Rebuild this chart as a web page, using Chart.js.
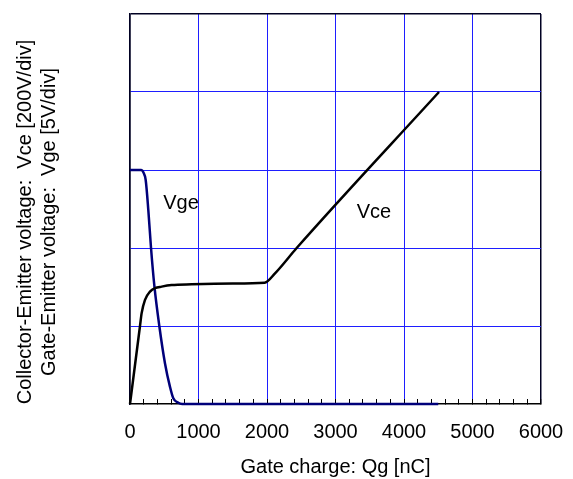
<!DOCTYPE html>
<html>
<head>
<meta charset="utf-8">
<script src="https://cdn.jsdelivr.net/npm/chart.js@4.4.1/dist/chart.umd.min.js"></script>
<style>
  html, body { margin: 0; padding: 0; background: #fff; }
  #chart { display: block; }
</style>
</head>
<body>
<canvas id="chart" width="573" height="479"></canvas>
<script>
// Gate charge curve
// Vce in volts (200V/div), Vge in volts (5V/div), Qg in nC
const qgVce = [0, 146, 170, 219, 292, 365, 462, 608, 900, 1500, 1965, 2117, 2433, 4511];
const vce   = [0, 200, 233, 267, 288, 297, 301, 305, 307, 309, 311, 335, 400, 800];

const qgVge = [0, 165, 195, 229, 268, 307, 355, 428, 511, 584, 632, 705, 760, 4500];
const vge   = [15, 15, 14.85, 14.36, 12.4, 10, 7.6, 5, 2.6, 1.1, 0.37, 0.08, 0, 0];

const xTicks = [0, 1000, 2000, 3000, 4000, 5000, 6000];

const curveLabels = [
    { text: 'Vge', qg: 745, v: 515 },
    { text: 'Vce', qg: 3562, v: 491 }
];

const FONT = '"Liberation Sans", Arial, sans-serif';
const gridBlue = 'rgb(30,30,255)';
const frameColor = '#000022';

function toPoints(xs, ys) {
    return xs.map((x, i) => ({ x: x, y: ys[i] }));
}

// y title and curve names
const annotations = {
    id: 'annotations',
    afterDraw(chart) {
        const ctx = chart.ctx;
        const x = chart.scales.x;
        const y = chart.scales.y;
        ctx.save();
        ctx.fillStyle = '#000';
        ctx.font = '20px ' + FONT;
        ctx.textAlign = 'center';
        ctx.textBaseline = 'middle';
        curveLabels.forEach(l => {
            ctx.fillText(l.text, x.getPixelForValue(l.qg), y.getPixelForValue(l.v));
        });
        ctx.translate(0, 222);
        ctx.rotate(-Math.PI / 2);
        ctx.fillText('Collector-Emitter voltage:  Vce [200V/div]', 0, 25);
        ctx.fillText('Gate-Emitter voltage:  Vge [5V/div]', 0, 49);
        ctx.restore();
    }
};

new Chart(document.getElementById('chart').getContext('2d'), {
    type: 'line',
    data: {
        datasets: [
            {
                label: 'Vce',
                data: toPoints(qgVce, vce),
                yAxisID: 'y',
                borderColor: '#000',
                borderWidth: 2.5,
                pointRadius: 0,
                cubicInterpolationMode: 'monotone',
                clip: 6
            },
            {
                label: 'Vge',
                data: toPoints(qgVge, vge),
                yAxisID: 'y2',
                borderColor: '#00007a',
                borderWidth: 2.5,
                pointRadius: 0,
                cubicInterpolationMode: 'monotone',
                clip: 6
            }
        ]
    },
    options: {
        responsive: false,
        animation: false,
        layout: { padding: { left: 130, right: 32, top: 14, bottom: 0 } },
        plugins: { legend: { display: false }, tooltip: { enabled: false } },
        scales: {
            x: {
                type: 'linear',
                min: 0,
                max: 6000,
                afterFit(scale) {
                    scale.height = 75;
                    scale.paddingLeft = 0;
                    scale.paddingRight = 0;
                },
                afterBuildTicks(scale) {
                    const t = [];
                    for (let v = 0; v <= 6000; v += 200) t.push({ value: v });
                    scale.ticks = t;
                },
                ticks: {
                    autoSkip: false,
                    maxRotation: 0,
                    padding: 21,
                    color: '#000',
                    font: { family: FONT, size: 20 },
                    callback: v => xTicks.includes(v) ? String(v) : ''
                },
                grid: {
                    color: c => (c.tick.value === 0 || c.tick.value === 6000) ? frameColor
                        : (c.tick.value % 1000 === 0 ? gridBlue : 'rgba(0,0,0,0)'),
                    lineWidth: c => (c.tick.value === 0 || c.tick.value === 6000) ? 1.5 : 1,
                    drawTicks: true,
                    tickLength: -5,
                    tickColor: '#000',
                    tickWidth: 1
                },
                border: { display: true, color: '#000', width: 1.5 },
                title: {
                    display: true,
                    text: 'Gate charge: Qg [nC]',
                    color: '#000',
                    padding: 0,
                    font: { family: FONT, size: 20 }
                }
            },
            y: {
                min: 0,
                max: 1000,
                afterFit(scale) { scale.width = 0; },
                ticks: { display: false, stepSize: 200 },
                grid: {
                    color: c => c.tick.value === 1000 ? frameColor
                        : (c.tick.value === 0 ? 'rgba(0,0,0,0)' : gridBlue),
                    lineWidth: c => c.tick.value === 1000 ? 1.5 : 1,
                    drawTicks: false
                },
                border: { display: true, color: frameColor, width: 1.5 }
            },
            y2: {
                min: 0,
                max: 25,
                display: false
            }
        }
    },
    plugins: [annotations]
});
</script>
</body>
</html>
